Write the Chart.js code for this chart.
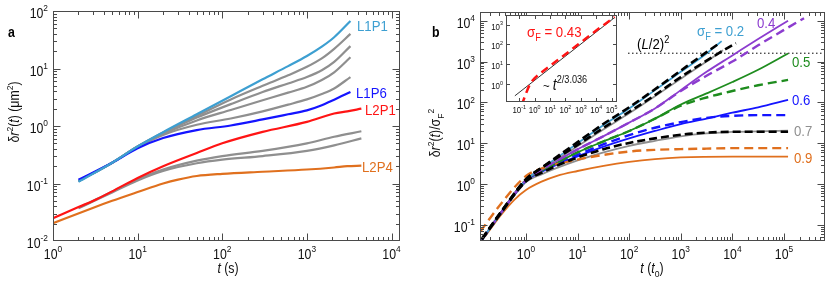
<!DOCTYPE html>
<html>
<head>
<meta charset="utf-8">
<script src="https://cdn.jsdelivr.net/npm/chart.js@4.4.1/dist/chart.umd.min.js"></script>
<style>
  body { margin: 0; background: #fff; }
  #fig { position: relative; width: 830px; height: 283px; overflow: hidden; }
  #fig canvas { position: absolute; top: 0; }
</style>
</head>
<body>
<div id="fig">
  <canvas id="chart-a" width="420" height="283" style="left:0"></canvas>
  <canvas id="chart-b" width="410" height="283" style="left:420px"></canvas>
  <canvas id="chart-inset" width="140" height="120" style="left:484px"></canvas>
</div>
<script>
// ---- panel a : δr²(t) in µm² against t (s) ----
const aTimeUpper = [2, 5, 10, 20, 50, 126, 300, 600, 1000, 1500, 2100, 3270];
const aL1P1   = [0.107, 0.23, 0.44, 0.78, 1.6, 3.3, 6.5, 11, 16.5, 24, 35, 67];
const aGrayU1 = [0.11, 0.23, 0.44, 0.77, 1.5, 2.9, 5.0, 7.6, 10.7, 15, 22, 40];
const aGrayU2 = [0.11, 0.23, 0.44, 0.75, 1.4, 2.4, 3.9, 5.5, 7.1, 9.3, 13, 24.5];
const aGrayU3 = [0.11, 0.23, 0.44, 0.73, 1.25, 1.9, 2.8, 3.8, 4.8, 6.3, 8.6, 15.7];
const aGrayU4 = [0.11, 0.23, 0.43, 0.7, 1.05, 1.35, 1.8, 2.35, 2.9, 3.6, 4.5, 7.1];
const aL1P6   = [0.116, 0.23, 0.41, 0.62, 0.85, 1.02, 1.3, 1.6, 1.87, 2.3, 2.87, 3.9];

const aTimeL2P1 = [1, 2, 3, 5, 10, 20, 50, 100, 300, 1000, 2100, 3000, 4400];
const aL2P1     = [0.025, 0.039, 0.05, 0.073, 0.125, 0.2, 0.34, 0.5, 0.79, 1.18, 1.65, 1.8, 2.0];
const aTimeLower = [2, 3, 5, 10, 20, 50, 100, 300, 1000, 2100, 4400];
const aGrayL1    = [0.038, 0.05, 0.072, 0.118, 0.175, 0.25, 0.3, 0.37, 0.5, 0.65, 0.81];
const aGrayL2    = [0.037, 0.049, 0.07, 0.113, 0.165, 0.225, 0.26, 0.3, 0.37, 0.46, 0.61];
const aTimeL2P4 = [1, 3, 5, 10, 20, 30, 50, 100, 300, 1000, 2100, 3000, 4400];
const aL2P4     = [0.0204, 0.038, 0.05, 0.071, 0.1, 0.117, 0.135, 0.147, 0.16, 0.175, 0.19, 0.2, 0.204];

const aXTicks = [1, 10, 100, 1000, 10000];
const aYTicks = [0.01, 0.1, 1, 10, 100];

// ---- panel b : δr²(t)/σF² against t (t0) ----
const bTime = [0.14, 0.32, 1, 2, 10, 32, 100, 316, 1000, 3162, 10000, 31600, 120000];
const bTime02  = [0.14, 0.32, 1, 2, 10, 32, 100, 316, 1000, 3162, 6200];
const bSig02   = [0.044, 0.19, 1.26, 2.4, 10, 28, 71, 200, 560, 1580, 3160];
const bTime02d = [0.14, 0.32, 1, 2, 10, 32, 100, 316, 1000, 3162, 5200];
const bSig02d  = [0.046, 0.2, 1.3, 2.5, 10.7, 30, 76, 210, 600, 1700, 2630];
const bTime03  = [0.14, 0.32, 1, 2, 10, 32, 100, 316, 1000, 3162, 6600];
const bSig03   = [0.044, 0.19, 1.26, 2.3, 8.5, 22, 54, 141, 380, 1000, 1900];
const bTime03d = [0.14, 0.32, 1, 2, 10, 32, 100, 316, 1000, 3162, 6600, 11700];
const bSig03d  = [0.046, 0.2, 1.32, 2.5, 9.1, 24, 59, 151, 417, 1050, 1860, 2820];
const bSig04   = [0.044, 0.19, 1.26, 2.24, 7.1, 15, 32, 71, 200, 560, 1410, 3550, 10000];
const bTime04d = [0.14, 0.32, 1, 2, 10, 32, 100, 316, 1000, 3162, 10000, 31600, 120000, 245000];
const bSig04d  = [0.044, 0.19, 1.26, 2.24, 7.1, 15, 32, 71, 190, 450, 1000, 2500, 6800, 11500];
const bSig05   = [0.044, 0.19, 1.26, 2.1, 6.0, 11.2, 20, 40, 89, 166, 316, 630, 1580];
const bSig05d  = [0.044, 0.19, 1.26, 2.1, 6.0, 11.2, 20, 40, 83, 132, 190, 263, 355];
const bSig06   = [0.044, 0.19, 1.2, 2.0, 4.8, 8.3, 13.2, 20, 29.5, 40, 56, 76, 115];
const bSig06d  = [0.044, 0.19, 1.23, 2.1, 5.2, 9.5, 15.8, 24, 33, 42, 47, 49, 49];
const bSig07   = [0.044, 0.186, 1.12, 1.74, 3.8, 6.0, 8.7, 11.5, 14.8, 17.4, 19.1, 19.5, 20.4];
const bSig07d  = [0.044, 0.19, 1.17, 1.9, 4.5, 7.2, 10.2, 13.2, 16.2, 18.2, 19.1, 19.1, 19.1];
const bTime09d = [0.13, 0.32, 1, 2, 10, 32, 100, 316, 1000, 3162, 10000, 31600, 120000];
const bSig09d  = [0.069, 0.32, 1.58, 2.4, 4.0, 5.2, 6.3, 6.9, 7.2, 7.4, 7.6, 7.6, 7.6];
const bTime09  = [0.16, 0.32, 0.6, 1, 2, 4, 10, 32, 100, 316, 1000, 10000, 120000];
const bSig09   = [0.052, 0.17, 0.42, 0.72, 1.15, 1.6, 2.1, 2.8, 3.5, 4.1, 4.5, 4.7, 4.7];
const bHalfLTime = [95, 624000];
const bHalfL     = [1600, 1600];

const bXTicks = [1, 10, 100, 1000, 10000, 100000];
const bYTicks = [0.1, 1, 10, 100, 1000, 10000];

// ---- inset : σF = 0.43 ----
const inFitTime = [0.052, 162000];
const inFit     = [0.26, 2290];
const inTime043 = [0.145, 0.25, 0.5, 1, 3.2, 10, 100, 1000, 10000, 158000];
const inSig043  = [0.089, 0.28, 1.0, 2.0, 4.2, 8.3, 32, 126, 500, 2400];

const inXTicks = [0.1, 1, 10, 100, 1000, 10000, 100000];
const inYTicks = [1, 10, 100, 1000];

const C = {
  cyan:   '#3d9fd1',
  blue:   '#1414ff',
  red:    '#ff1414',
  orange: '#e0701e',
  gray:   '#8f8f8f',
  purple: '#8c3ccf',
  green:  '#1e8c1e',
  black:  '#000000',
  frame:  '#4a4a4a',
};

const SQ   = 0.88;
const FONT = '"Liberation Sans", Arial, Helvetica, sans-serif';

const sup = t => ({ t, s: 0.7, dy: -0.42 });
const sub = t => ({ t, s: 0.7, dy: 0.28 });

function rich(ctx, segs, x, y, size, color, align, rot) {
  ctx.save();
  ctx.translate(x, y);
  if (rot) ctx.rotate(rot);
  ctx.scale(SQ, 1);
  ctx.fillStyle = color || '#111';
  ctx.textBaseline = 'alphabetic';
  ctx.textAlign = 'left';
  let w = 0;
  const parts = segs.map(s => {
    const f = `${s.it ? 'italic ' : ''}${s.b ? 'bold ' : ''}${(size * (s.s || 1)).toFixed(1)}px ${FONT}`;
    ctx.font = f;
    const sw = ctx.measureText(s.t).width;
    w += sw;
    return { f, sw };
  });
  let cx = align === 'center' ? -w / 2 : align === 'right' ? -w : 0;
  segs.forEach((s, i) => {
    ctx.font = parts[i].f;
    ctx.fillText(s.t, cx, (s.dy || 0) * size);
    cx += parts[i].sw;
  });
  ctx.restore();
  return w * SQ;
}

function series(ts, ys, color, width, dash) {
  return {
    data: ts.map((t, i) => ({ x: t, y: ys[i] })),
    borderColor: color,
    borderWidth: width,
    borderDash: dash || [],
    pointRadius: 0,
    fill: false,
    cubicInterpolationMode: 'monotone',
  };
}

function tickLabel(v) {
  const e = Math.round(Math.log10(v));
  return [{ t: '10' }, { t: String(e), s: 0.68, dy: -0.48 }];
}

// frame, inward log ticks on all four sides, tick labels and free text
function decoPlugin(cfg) {
  return {
    id: 'deco',
    beforeDatasetsDraw(chart) {
      if (!cfg.whiteBg) return;
      const a = chart.chartArea, ctx = chart.ctx;
      ctx.save();
      ctx.fillStyle = '#fff';
      ctx.fillRect(a.left, a.top, a.right - a.left, a.bottom - a.top);
      ctx.restore();
    },
    afterDatasetsDraw(chart) {
      const ctx = chart.ctx, a = chart.chartArea;
      const xs = chart.scales.x, ys = chart.scales.y;
      const L = Math.round(a.left) + 0.5, R = Math.round(a.right) - 0.5;
      const T = Math.round(a.top) + 0.5, B = Math.round(a.bottom) - 0.5;
      ctx.save();
      ctx.strokeStyle = C.frame;
      ctx.lineWidth = 1;
      ctx.beginPath();
      const line = (x1, y1, x2, y2) => { ctx.moveTo(x1, y1); ctx.lineTo(x2, y2); };
      [[xs, true], [ys, false]].forEach(([sc, hor]) => {
        const lo = Math.floor(Math.log10(sc.min)), hi = Math.ceil(Math.log10(sc.max));
        for (let e = lo; e <= hi; e++) {
          for (let m = 1; m <= 9; m++) {
            if (m > 1 && !cfg.minor) continue;
            const v = m * Math.pow(10, e);
            if (v < sc.min * 1.001 || v > sc.max * 0.999) continue;
            const len = m === 1 ? cfg.major : cfg.minorLen;
            const p = Math.round(sc.getPixelForValue(v)) + 0.5;
            if (hor) { line(p, B, p, B - len); line(p, T, p, T + len); }
            else { line(L, p, L + len, p); line(R, p, R - len, p); }
          }
        }
      });
      ctx.stroke();
      ctx.strokeRect(L, T, R - L, B - T);
      ctx.restore();

      cfg.xTicks.forEach(v => {
        rich(ctx, tickLabel(v), xs.getPixelForValue(v), a.bottom + cfg.xLabelDy, cfg.font, '#111', 'center');
      });
      cfg.yTicks.forEach(v => {
        rich(ctx, tickLabel(v), a.left - cfg.yGap, ys.getPixelForValue(v) + cfg.yLabelDy, cfg.font, '#111', 'right');
      });
      if (cfg.texts) cfg.texts(ctx, chart);
    },
  };
}

function makeChart(id, datasets, xRange, yRange, pad, deco) {
  return new Chart(document.getElementById(id), {
    type: 'line',
    data: { datasets },
    options: {
      responsive: false,
      animation: false,
      devicePixelRatio: 1,
      events: [],
      layout: { padding: pad },
      plugins: { legend: { display: false }, tooltip: { enabled: false } },
      scales: {
        x: { type: 'logarithmic', min: xRange[0], max: xRange[1], display: false },
        y: { type: 'logarithmic', min: yRange[0], max: yRange[1], display: false },
      },
    },
    plugins: [decoPlugin(deco)],
  });
}

// ---------- panel a ----------
makeChart('chart-a', [
  series(aTimeUpper, aL1P1, C.cyan, 2.2),
  series(aTimeUpper, aL1P6, C.blue, 2.2),
  series(aTimeL2P1, aL2P1, C.red, 2.2),
  series(aTimeL2P4, aL2P4, C.orange, 2.2),
  series(aTimeUpper, aGrayU1, C.gray, 2.2),
  series(aTimeUpper, aGrayU2, C.gray, 2.2),
  series(aTimeUpper, aGrayU3, C.gray, 2.2),
  series(aTimeUpper, aGrayU4, C.gray, 2.2),
  series(aTimeLower, aGrayL1, C.gray, 2.2),
  series(aTimeLower, aGrayL2, C.gray, 2.2),
], [1, 12589], [0.01, 100], { left: 53, right: 20, top: 11, bottom: 42 }, {
  minor: true, major: 7, minorLen: 3.5, font: 14,
  xTicks: aXTicks, yTicks: aYTicks, xLabelDy: 18, yGap: 5, yLabelDy: 7,
  texts(ctx) {
    rich(ctx, [{ t: 'a', b: true }], 8, 37, 14, '#000', 'left');
    rich(ctx, [{ t: 'L1P1' }], 357, 31, 15, C.cyan, 'left');
    rich(ctx, [{ t: 'L1P6' }], 356, 98, 15, C.blue, 'left');
    rich(ctx, [{ t: 'L2P1' }], 365, 114.5, 15, C.red, 'left');
    rich(ctx, [{ t: 'L2P4' }], 362, 171.5, 15, C.orange, 'left');
    rich(ctx, [{ t: 't', it: true }, { t: ' (s)' }], 228, 273, 14, '#111', 'center');
    rich(ctx, [{ t: 'δ' }, { t: 'r', it: true }, sup('2'), { t: '(' }, { t: 't', it: true },
               { t: ') (μm' }, sup('2'), { t: ')' }], 19, 112, 14, '#111', 'center', -Math.PI / 2);
  },
});

// ---------- panel b ----------
makeChart('chart-b', [
  series(bTime02d, bSig02d, C.black, 2.6, [8, 4]),
  series(bTime03d, bSig03d, C.black, 2.6, [8, 4]),
  series(bTime, bSig07d, C.black, 2.6, [8, 4]),
  series(bTime04d, bSig04d, C.purple, 2.4, [9, 5]),
  series(bTime, bSig05d, C.green, 2.4, [9, 5]),
  series(bTime, bSig06d, C.blue, 2.4, [9, 5]),
  series(bTime09d, bSig09d, C.orange, 2.4, [9, 5]),
  series(bTime02, bSig02, C.cyan, 1.8),
  series(bTime03, bSig03, C.gray, 1.8),
  series(bTime, bSig04, C.purple, 1.8),
  series(bTime, bSig05, C.green, 1.8),
  series(bTime, bSig06, C.blue, 1.8),
  series(bTime, bSig07, C.gray, 1.8),
  series(bTime09, bSig09, C.orange, 1.8),
  series(bHalfLTime, bHalfL, C.black, 1, [1.5, 2.5]),
], [0.1285, 624000], [0.0407, 16300], { left: 60, right: 5, top: 12, bottom: 42 }, {
  minor: true, major: 7, minorLen: 3.5, font: 14,
  xTicks: bXTicks, yTicks: bYTicks, xLabelDy: 18, yGap: 5, yLabelDy: 7,
  texts(ctx) {
    rich(ctx, [{ t: 'b', b: true }], 12, 37, 14, '#000', 'left');
    rich(ctx, [{ t: 'σ' }, sub('F'), { t: ' = 0.2' }], 277, 36, 15, C.cyan, 'left');
    rich(ctx, [{ t: '0.4' }], 337, 28, 15, C.purple, 'left');
    rich(ctx, [{ t: '0.5' }], 372, 67, 15, C.green, 'left');
    rich(ctx, [{ t: '0.6' }], 372, 105, 15, C.blue, 'left');
    rich(ctx, [{ t: '0.7' }], 374, 136, 15, C.gray, 'left');
    rich(ctx, [{ t: '0.9' }], 374, 163, 15, C.orange, 'left');
    rich(ctx, [{ t: '(' }, { t: 'L', it: true }, { t: '/2)' }, sup('2')], 217, 49, 15, '#000', 'left');
    rich(ctx, [{ t: 't', it: true }, { t: ' (' }, { t: 't', it: true }, sub('0'), { t: ')' }],
         232, 273, 14, '#111', 'center');
    rich(ctx, [{ t: 'δ' }, { t: 'r', it: true }, sup('2'), { t: '(' }, { t: 't', it: true },
               { t: ')/σ' }, sub('F'), sup('2')], 20, 133, 14, '#111', 'center', -Math.PI / 2);
  },
});

// ---------- inset ----------
makeChart('chart-inset', [
  series(inTime043, inSig043, C.red, 2.5, [8, 5]),
  series(inFitTime, inFit, C.black, 0.8),
], [0.0138, 224000], [0.135, 3020], { left: 22, right: 7, top: 15, bottom: 18.5 }, {
  whiteBg: true, minor: false, major: 3.5, minorLen: 0, font: 9,
  xTicks: inXTicks, yTicks: inYTicks, xLabelDy: 11.5, yGap: 3, yLabelDy: 5,
  texts(ctx) {
    rich(ctx, [{ t: 'σ' }, sub('F'), { t: ' = 0.43' }], 43, 37, 15, C.red, 'left');
    rich(ctx, [{ t: '~ ' }, { t: 't', it: true, s: 1.2 }, { t: '2/3.036', s: 0.8, dy: -0.55 }],
         59, 90, 13, '#111', 'left');
  },
});
</script>
</body>
</html>
